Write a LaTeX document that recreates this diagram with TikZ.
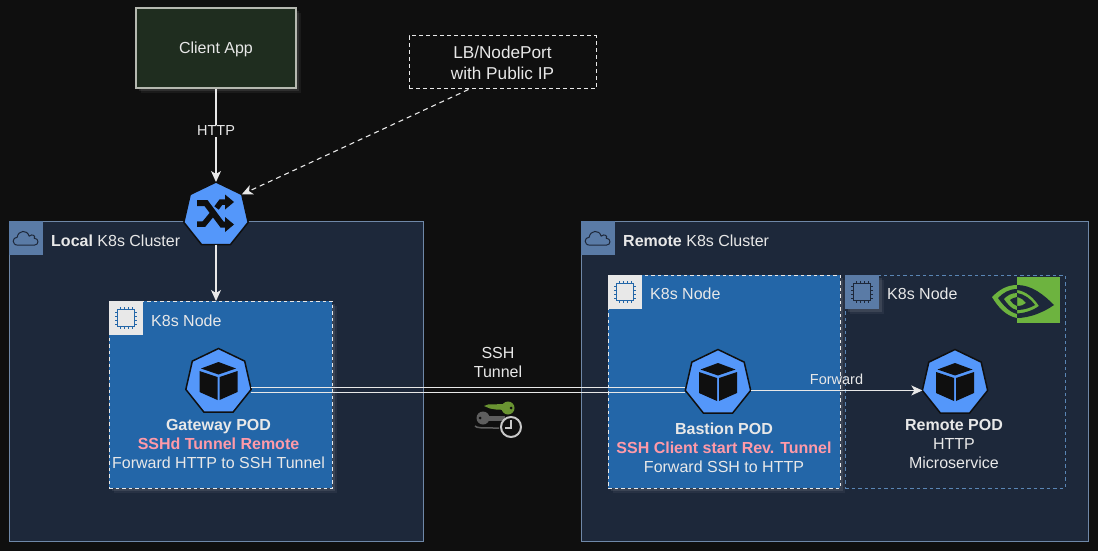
\documentclass[tikz,border=0pt]{standalone}
\usepackage{fontspec}
\setmainfont{Liberation Sans}
\usetikzlibrary{positioning,calc,shadows,shapes.geometric,arrows.meta}
\definecolor{pagebg}{HTML}{0F0F0F}
\definecolor{clusterbg}{HTML}{1D283A}
\definecolor{clusteredge}{HTML}{6F88A8}
\definecolor{headerblue}{HTML}{5A7BA6}
\definecolor{nodeblue}{HTML}{2366A8}
\definecolor{gpuedge}{HTML}{5A86B5}
\definecolor{hexblue}{HTML}{5497FA}
\definecolor{clientbg}{HTML}{1F2D1F}
\definecolor{clientedge}{HTML}{B5B8B0}
\definecolor{lighttext}{HTML}{E8E8E8}
\definecolor{pinktext}{HTML}{FF9AA8}
\definecolor{nvgreen}{HTML}{6DB33F}
\definecolor{keygreen}{HTML}{6A9432}
\definecolor{keygrey}{HTML}{5E5E5E}
\definecolor{clockgrey}{HTML}{C8C8C8}

\begin{document}
\begin{tikzpicture}[x=1pt, y=-1pt,
    softshadow/.style={drop shadow={shadow xshift=5pt, shadow yshift=-5pt, opacity=.05, fill=white},
        drop shadow={shadow xshift=3pt, shadow yshift=-3pt, opacity=.09, fill=white}},
    cluster/.style={rectangle, draw=clusteredge, fill=clusterbg, line width=1pt, anchor=north west, outer sep=0pt},
    k8snode/.style={rectangle, draw=lighttext, dash pattern=on 3.5pt off 3pt, fill=nodeblue, line width=1pt, anchor=north west, outer sep=0pt, minimum height=187pt},
    iconbox/.style={rectangle, minimum width=34pt, minimum height=34pt, anchor=north west, inner sep=0pt},
    hept/.style={regular polygon, regular polygon sides=7, fill=hexblue, draw=pagebg, line width=1.5pt, minimum size=67pt, inner sep=0pt, outer sep=0pt},
    caption/.style={text=lighttext, font=\fontsize{16}{19}\selectfont, align=center, inner sep=0pt},
    headline/.style={text=lighttext, font=\fontsize{16}{19}\selectfont, anchor=west, inner sep=0pt},
    linelabel/.style={text=lighttext, font=\fontsize{14.5}{18}\selectfont, inner sep=1pt},
    arrow/.style={-{Stealth[length=11pt, width=10pt, inset=3pt]}, line width=1.1pt, draw=lighttext},
    tunnel/.style={line width=1.1pt, draw=lighttext},
    pics/cubeicon/.style={code={
        \fill[pagebg] (0,-20) -- (17.5,-13.5) -- (0,-7.5) -- (-17.5,-13.5) -- cycle;
        \fill[pagebg] (-19,-11) -- (-1,-5) -- (-1,18) -- (-19,10) -- cycle;
        \fill[pagebg] (19,-11) -- (1,-5) -- (1,18) -- (19,10) -- cycle;
    }},
    pics/chipicon/.style={code={
        \draw[#1, line width=1pt, fill=none] (-8.5,-8.5) rectangle (8.5,8.5);
        \foreach \p in {-6,-2,2,6} {
            \draw[#1, line width=1pt] (\p,-11) -- (\p,-8.5) (\p,8.5) -- (\p,11);
            \draw[#1, line width=1pt] (-11,\p) -- (-8.5,\p) (8.5,\p) -- (11,\p);
        }
    }},
    pics/cloudicon/.style={code={
        \draw[clusterbg, line width=1pt, line join=round]
            (-8,7) .. controls (-15,7) and (-14,-1) .. (-9,-1)
            .. controls (-8,-8) and (1,-9) .. (3,-2)
            .. controls (6,-5) and (10,-2) .. (8,0)
            .. controls (13,0) and (13,7) .. (8,7) -- cycle;
    }}]

    \useasboundingbox (0,0) rectangle (1098,551);
    \fill[pagebg] (0,0) rectangle (1098,551);

    % clusters
    \node[cluster, minimum width=414pt, minimum height=320pt] (localcluster) at (9,221) {};
    \node[cluster, minimum width=507pt, minimum height=320pt] (remotecluster) at (581,221) {};
    \node[iconbox, fill=headerblue] (localcloud) at (9,221) {};
    \node[iconbox, fill=headerblue] (remotecloud) at (581,221) {};
    \pic at (localcloud) {cloudicon};
    \pic at (remotecloud) {cloudicon};
    \node[headline] (locallabel) at (51,241) {\textbf{Local} K8s Cluster};
    \node[headline] (remotelabel) at (623,241) {\textbf{Remote} K8s Cluster};

    % k8s nodes
    \node[k8snode, softshadow, minimum width=223pt] (localnode) at (109,301) {};
    \node[k8snode, draw=gpuedge, fill=clusterbg, minimum width=220pt, minimum height=213pt] (gpunode) at (845,275) {};
    \node[k8snode, softshadow, minimum width=232pt, minimum height=213pt] (bastionnode) at (608,275) {};
    \node[iconbox, fill=lighttext] (localchip) at (109,301) {};
    \node[iconbox, fill=lighttext] (bastionchip) at (608,275) {};
    \node[iconbox, fill=headerblue, softshadow] (gpuchip) at (845,275) {};
    \pic at (localchip) {chipicon={nodeblue}};
    \pic at (bastionchip) {chipicon={nodeblue}};
    \pic at (gpuchip) {chipicon={clusterbg}};
    \node[headline] (localnodelabel) at (151,321) {K8s Node};
    \node[headline] (bastionnodelabel) at (650,294) {K8s Node};
    \node[headline] (gpunodelabel) at (887,294) {K8s Node};

    % nvidia logo
    \node[rectangle, fill=nvgreen, minimum width=43pt, minimum height=46pt, anchor=north west, inner sep=0pt] (nvidia) at (1017,277) {};
    \fill[nvgreen] (1017,285) .. controls (1006,285) and (998,291) .. (992,297) .. controls (998,307) and (1006,316) .. (1017,318) -- cycle;
    \fill[clusterbg] (1017,289) .. controls (1009,289) and (1003,293) .. (998,298) .. controls (1003,305) and (1009,312) .. (1017,314) -- cycle;
    \fill[nvgreen] (1017,293) .. controls (1011,293) and (1007,296) .. (1004,299) .. controls (1007,303) and (1011,309) .. (1017,310) -- cycle;
    \fill[clusterbg] (1017,297) .. controls (1013,298) and (1011,299) .. (1010,300) .. controls (1012,303) and (1014,305) .. (1017,306) -- cycle;
    \fill[clusterbg] (1017,285) .. controls (1032,285) and (1044,295) .. (1054,305) .. controls (1044,312) and (1030,318) .. (1017,318) -- (1017,313.5) .. controls (1027,313) and (1035,309) .. (1039,306) .. controls (1034,298) and (1026,291) .. (1017,290) -- cycle;
    \fill[clusterbg] (1017,293) .. controls (1024,294) and (1031,299) .. (1035,305) .. controls (1030,308) and (1024,310) .. (1017,310) -- (1017,306) .. controls (1021,306) and (1024,305) .. (1026,303) .. controls (1024,300) and (1021,298) .. (1017,297) -- cycle;

    % top nodes
    \node[rectangle, draw=clientedge, fill=clientbg, line width=1.5pt, minimum width=160pt, minimum height=80pt, text depth=0pt, text=lighttext, font=\fontsize{16}{19}\selectfont, softshadow] (client) at (216,48) {Client App};
    \node[rectangle, draw=lighttext, dash pattern=on 4pt off 3pt, line width=1pt, minimum width=187pt, minimum height=53pt, align=center, text=lighttext, font=\fontsize{17.2}{21}\selectfont] (lb) at (502.5,62.5) {LB/NodePort\\with Public IP};

    % ingress icon
    \node[hept, minimum size=66pt] (ingress) at (216,215) {};
    \draw[pagebg, line width=6pt] (197,203) -- (206,203) -- (222,224.5) -- (226,224.5);
    \draw[pagebg, line width=5.5pt] (197,224) -- (204,224) -- (213.5,212.5);
    \draw[pagebg, line width=5.5pt] (216.5,208) -- (221,202) -- (226,202);
    \fill[pagebg] (225,194.5) -- (234,202) -- (225,209.5) -- cycle;
    \fill[pagebg] (225,217) -- (234,224.5) -- (225,232) -- cycle;

    % pods
    \node[hept] (gateway) at (218.5,382) {};
    \node[hept] (bastion) at (718,383) {};
    \node[hept] (remotepod) at (955,383) {};
    \pic at (gateway) {cubeicon};
    \pic at (bastion) {cubeicon};
    \pic at (remotepod) {cubeicon};
    \node[caption, below=7pt of gateway] (gatewaytext) {\textbf{Gateway POD}\\\textcolor{pinktext}{\textbf{SSHd Tunnel Remote}}\\Forward HTTP to SSH Tunnel};
    \node[caption, below=10pt of bastion, xshift=6pt] (bastiontext) {\textbf{Bastion POD}\\\textcolor{pinktext}{\textbf{SSH Client start Rev. Tunnel}}\\Forward SSH to HTTP};
    \node[caption, below=6pt of remotepod, xshift=-1pt] (remotetext) {\textbf{Remote POD}\\HTTP\\Microservice};

    % tunnel text and key icon
    \node[caption] (tunneltext) at (498,362) {SSH\\Tunnel};
    \fill[keygreen] (508,408) circle (6.5);
    \fill[keygreen] (484,406) -- (488,404.5) -- (506,404) -- (506,410) -- (496,409.5) -- (490,408.5) -- cycle;
    \fill[pagebg] (511,408) circle (1.5);
    \fill[keygrey] (483,418) circle (6.5);
    \fill[keygrey] (483,415.5) rectangle (505,421);
    \fill[pagebg] (480,418) circle (1.5);
    \draw[keygrey, line width=1.5pt] (475,426) .. controls (477,428) and (480,428) .. (499,428);
    \node[circle, draw=clockgrey, fill=pagebg, line width=2pt, minimum size=20pt, inner sep=0pt] (clock) at (511,427) {};
    \draw[clockgrey, line width=1.5pt] (511,419.5) -- (511,428) -- (505,428);

    % connectors
    \draw[arrow] (client) -- node[linelabel, fill=pagebg, pos=.45] (httplabel) {HTTP} (ingress);
    \draw[arrow, dash pattern=on 5pt off 4pt] ([xshift=-34pt]lb.south) -- (ingress.corner 7);
    \draw[arrow] (ingress) -- (ingress |- localnode.north);
    \draw[tunnel] ([yshift=2.4pt]gateway.corner 6) -- ([yshift=3.4pt]bastion.corner 3);
    \draw[tunnel] ([yshift=-2.6pt]gateway.corner 6) -- ([yshift=-1.6pt]bastion.corner 3);
    \draw[arrow] (bastion.corner 6) -- node[linelabel, above, yshift=4pt] (forwardlabel) {Forward} (remotepod.corner 3);
\end{tikzpicture}
\end{document}
